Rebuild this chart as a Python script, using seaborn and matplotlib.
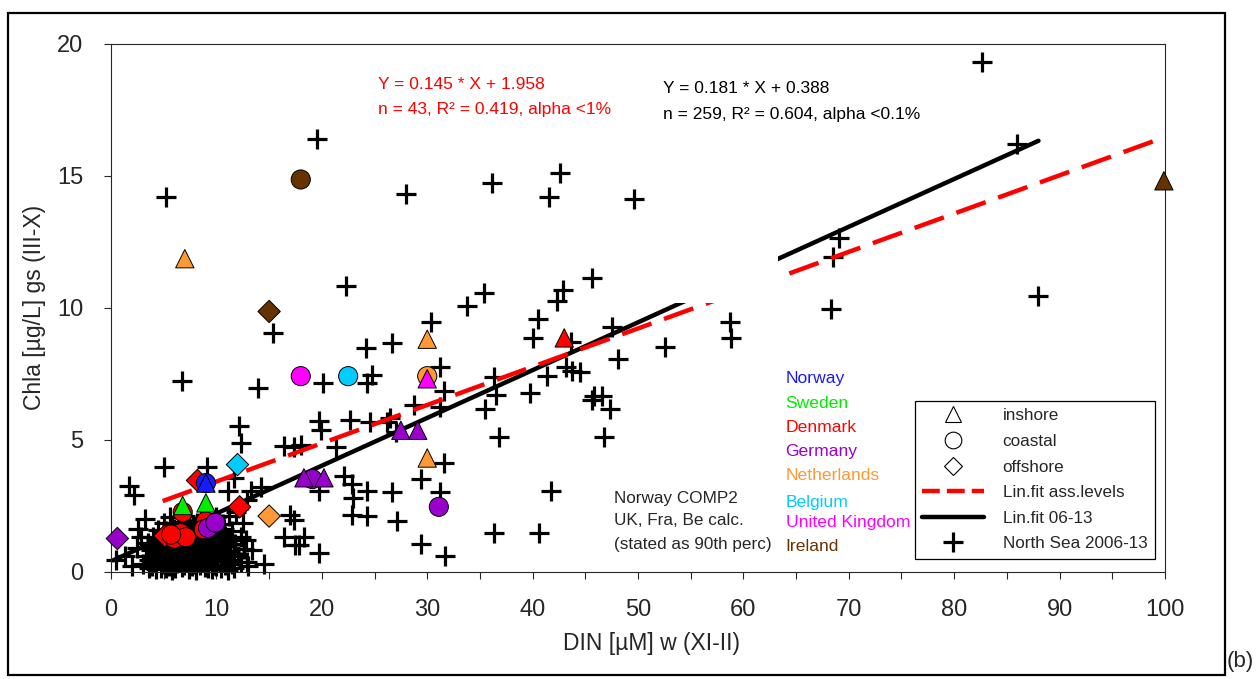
import numpy as np
import pandas as pd
import matplotlib
matplotlib.use("Agg")
import matplotlib.pyplot as plt
from matplotlib.lines import Line2D
from matplotlib.patches import Rectangle
import seaborn as sns

# regression equations printed on the chart
fit_ass_slope, fit_ass_icpt = 0.145, 1.958   # assessment levels
fit_ns_slope, fit_ns_icpt = 0.181, 0.388     # North Sea 2006-13
fit_ass_range = [4.9, 100]
fit_ns_range = [0.2, 88]

# North Sea 2006-13 stations: (DIN winter, Chla growing season)
ns_upper = [(82.6, 19.3), (86.0, 16.2), (19.5, 16.4), (5.2, 14.2), (28.0, 14.3), (36.1, 14.7),
            (42.6, 15.1), (41.6, 14.2), (49.6, 14.1), (22.3, 10.8), (45.6, 11.1), (35.4, 10.55),
            (33.8, 10.05), (42.9, 10.65), (42.3, 10.25), (40.5, 9.55), (40.0, 8.85), (43.6, 8.7),
            (30.4, 9.45), (26.7, 8.65), (24.2, 8.45), (15.4, 9.05), (47.5, 9.25), (48.1, 8.05),
            (52.6, 8.5), (58.7, 9.45), (58.8, 8.85), (68.5, 11.9), (69.1, 12.65), (68.3, 9.95),
            (88.0, 10.45)]
ns_mid = [(6.7, 7.2), (13.9, 6.95), (20.1, 7.15), (24.8, 7.45), (24.3, 7.15), (31.2, 7.75),
          (31.6, 6.85), (28.7, 6.3), (31.25, 6.25), (36.3, 7.35), (36.5, 6.7), (35.5, 6.15),
          (41.4, 7.4), (43.2, 7.75), (43.7, 7.6), (39.8, 6.75), (45.6, 6.5), (44.5, 7.55),
          (45.8, 6.65), (46.6, 6.65), (47.3, 6.15), (46.8, 5.1), (36.8, 5.1), (12.1, 5.5),
          (19.7, 5.7), (22.7, 5.75), (24.6, 5.65), (26.2, 5.65), (26.5, 5.8), (27.0, 5.3),
          (19.9, 5.35), (21.3, 4.7), (18.0, 4.8), (16.4, 4.75), (17.4, 4.7), (12.3, 4.85),
          (31.6, 4.1), (29.4, 3.5), (31.25, 3.0), (22.1, 3.6), (22.9, 3.3), (24.3, 3.05),
          (26.7, 3.0), (23.0, 2.8), (22.9, 2.15), (24.3, 2.1), (27.1, 1.9), (19.7, 3.05),
          (17.0, 2.15), (17.4, 1.95), (16.4, 1.3), (18.3, 1.3), (17.8, 1.0), (19.7, 0.7),
          (29.4, 1.05), (31.7, 0.6), (36.3, 1.45), (40.6, 1.45), (41.7, 3.05)]
ns_left = [(5.05, 3.95), (1.75, 3.25), (2.2, 2.9), (9.15, 3.95), (11.05, 3.05), (11.7, 3.55),
           (13.3, 3.05), (14.2, 3.2), (12.9, 2.7), (0.5, 0.45), (2.8, 1.3), (2.5, 0.9),
           (11.7, 0.65), (12.9, 0.35), (14.5, 0.3), (17.5, 1.0)]
ns_cluster = [(3.6, 0.12), (4.3, 0.08), (5.2, 0.15), (5.8, 0.05), (6.7, 0.18), (7.4, 0.1), (8.1, 0.06),
              (8.9, 0.16), (9.6, 0.09), (10.4, 0.13), (11.1, 0.04),
              (4.0, 0.35), (4.9, 0.28), (5.5, 0.4), (6.3, 0.31), (7.0, 0.37), (7.8, 0.27), (8.5, 0.42),
              (9.2, 0.33), (9.9, 0.25), (10.7, 0.38), (11.5, 0.3), (12.3, 0.36),
              (3.3, 0.6), (4.1, 0.52), (4.8, 0.63), (5.7, 0.55), (6.4, 0.66), (7.2, 0.5), (7.9, 0.61),
              (8.7, 0.57), (9.4, 0.68), (10.1, 0.53), (10.9, 0.64), (12.0, 0.58),
              (3.8, 0.82), (4.6, 0.9), (5.3, 0.78), (6.1, 0.86), (6.8, 0.93), (7.6, 0.8), (8.3, 0.88),
              (9.0, 0.76), (9.8, 0.91), (10.5, 0.84), (11.3, 0.79), (12.6, 0.87),
              (3.5, 1.08), (4.4, 1.02), (5.0, 1.12), (5.9, 1.05), (6.5, 0.98), (7.3, 1.1), (8.0, 1.04),
              (8.8, 1.14), (9.5, 1.0), (10.2, 1.09), (11.0, 1.15), (11.8, 1.03),
              (4.0, 1.32), (4.7, 1.26), (5.6, 1.38), (6.2, 1.3), (7.0, 1.24), (7.7, 1.35), (8.5, 1.28),
              (9.3, 1.4), (10.0, 1.27), (10.8, 1.36), (12.3, 1.3),
              (4.5, 1.58), (5.2, 1.52), (6.0, 1.62), (6.9, 1.55), (7.6, 1.6), (8.3, 1.5), (9.1, 1.64),
              (9.9, 1.57), (10.7, 1.6), (11.5, 1.54),
              (5.0, 1.82), (5.8, 1.78), (6.6, 1.86), (7.4, 1.8), (8.2, 1.84), (9.0, 1.76), (9.8, 1.88),
              (10.6, 1.8), (5.6, 2.05), (7.0, 2.1), (8.5, 2.02), (10.0, 2.08), (11.2, 2.12),
              (2.0, 0.22), (1.3, 0.6), (3.0, 0.28), (2.6, 1.62), (12.8, 1.18), (13.4, 0.8),
              (12.5, 1.84), (11.9, 2.25), (3.2, 2.0), (13.0, 0.22)]
ns_cluster_dense = [(3.9, 0.2), (4.7, 0.14), (5.5, 0.22), (6.1, 0.12), (6.9, 0.26), (7.7, 0.19),
                    (8.4, 0.23), (9.2, 0.12), (10.0, 0.2), (10.8, 0.24), (11.7, 0.15),
                    (3.6, 0.45), (4.4, 0.46), (5.2, 0.5), (6.0, 0.44), (6.8, 0.5), (7.5, 0.44),
                    (8.2, 0.5), (8.9, 0.46), (9.7, 0.42), (10.4, 0.48), (11.2, 0.45),
                    (4.2, 0.72), (5.0, 0.7), (5.9, 0.72), (6.6, 0.76), (7.3, 0.7), (8.0, 0.74),
                    (8.7, 0.7), (9.4, 0.8), (10.2, 0.72), (11.0, 0.71),
                    (3.9, 0.95), (4.8, 1.0), (5.6, 0.94), (6.3, 1.08), (7.0, 0.96), (7.8, 0.97),
                    (8.5, 0.95), (9.2, 1.02), (9.9, 1.18), (10.8, 0.98),
                    (4.3, 1.2), (5.2, 1.25), (6.6, 1.2), (7.4, 1.46), (8.1, 1.42), (8.9, 1.3),
                    (9.6, 1.45), (10.4, 1.47), (11.3, 1.28), (6.4, 1.7), (7.9, 1.7), (9.4, 1.75)]

# national assessment levels
site_country = ['Ireland', 'Ireland', 'Ireland', 'Netherlands', 'Netherlands', 'Netherlands',
                'Netherlands', 'Netherlands', 'United Kingdom', 'United Kingdom', 'Belgium', 'Belgium',
                'Denmark', 'Denmark', 'Denmark', 'Denmark', 'Denmark', 'Denmark', 'Denmark', 'Denmark',
                'Denmark', 'Denmark', 'Denmark',
                'Germany', 'Germany', 'Germany', 'Germany', 'Germany', 'Germany', 'Germany',
                'Germany', 'Germany', 'Norway', 'Norway', 'Sweden', 'Sweden']
site_type = ['coastal', 'offshore', 'inshore', 'inshore', 'inshore', 'coastal',
             'inshore', 'offshore', 'coastal', 'inshore', 'coastal', 'offshore',
             'offshore', 'offshore', 'offshore', 'coastal', 'coastal', 'coastal', 'coastal', 'coastal',
             'coastal', 'coastal', 'inshore',
             'inshore', 'inshore', 'inshore', 'inshore', 'coastal', 'coastal', 'coastal',
             'coastal', 'offshore', 'coastal', 'inshore', 'inshore', 'inshore']
site_x = [18.0, 15.0, 99.9, 7.0, 30.0, 30.0,
          30.0, 15.0, 18.0, 30.0, 22.5, 12.0,
          8.2, 12.2, 5.1, 6.8, 9.0, 6.0, 6.6, 7.1,
          5.7, 8.8, 43.0,
          27.5, 29.1, 18.3, 20.2, 19.1, 31.1, 9.2,
          9.9, 0.6, 9.0, 9.0, 6.8, 9.0]
site_y = [14.85, 9.85, 14.8, 11.85, 8.8, 7.4,
          4.3, 2.1, 7.4, 7.3, 7.4, 4.05,
          3.45, 2.45, 1.35, 2.25, 1.9, 1.25, 1.45, 1.3,
          1.4, 1.6, 8.85,
          5.35, 5.35, 3.55, 3.55, 3.5, 2.45, 1.65,
          1.85, 1.25, 3.35, 3.35, 2.5, 2.6]

country_order = ['Norway', 'Sweden', 'Denmark', 'Germany', 'Netherlands',
                 'Belgium', 'United Kingdom', 'Ireland']
country_colors = {'Norway': '#1a1aff', 'Sweden': '#00ee00', 'Denmark': '#ff0000',
                  'Germany': '#9900cc', 'Netherlands': '#ff9933', 'Belgium': '#00ccff',
                  'United Kingdom': '#ff00ff', 'Ireland': '#663300'}
country_label_y = [7.33, 6.36, 5.44, 4.55, 3.62, 2.6, 1.85, 0.95]

sns.set_style("ticks")
plt.rcParams['font.family'] = ['Liberation Sans', 'DejaVu Sans']

fig = plt.figure(figsize=(12.59, 6.79), dpi=100)
ax = fig.add_axes([0.0882, 0.1583, 0.8371, 0.7776])

ns = pd.DataFrame(ns_upper + ns_mid + ns_left + ns_cluster + ns_cluster_dense,
                  columns=['din', 'chla'])
sns.scatterplot(data=ns, x='din', y='chla', marker='+', s=200, color='black',
                linewidth=2.3, legend=False, ax=ax, zorder=2, clip_on=False)

xa = np.array(fit_ass_range)
xn = np.array(fit_ns_range)
sns.lineplot(x=xn, y=fit_ns_slope * xn + fit_ns_icpt, color='black', lw=3.2, ax=ax, zorder=2.5)
sns.lineplot(x=xa, y=fit_ass_slope * xa + fit_ass_icpt, color='red', lw=3.2,
             linestyle=(0, (7, 3)), ax=ax, zorder=2.5)
# blank box that interrupts both fit lines in the original
ax.add_patch(Rectangle((52, 10.16), 11.3, 4.0, facecolor='white', edgecolor='none', zorder=2.6))

sites = pd.DataFrame({'country': site_country, 'type': site_type, 'din': site_x, 'chla': site_y})
for typ, mk, sz in [('offshore', 'D', 130), ('coastal', 'o', 190), ('inshore', '^', 175)]:
    sub = sites[sites['type'] == typ]
    sns.scatterplot(data=sub, x='din', y='chla', hue='country', palette=country_colors,
                    marker=mk, s=sz, edgecolor='black', linewidth=0.7, legend=False,
                    ax=ax, zorder=3, clip_on=False)

ax.set_xlim(0, 100)
ax.set_ylim(0, 20)
ax.set_xticks(np.arange(0, 101, 10))
ax.set_xticks(np.arange(5, 100, 10), minor=True)
ax.set_yticks(np.arange(0, 21, 5))
ax.tick_params(axis='both', which='both', direction='out', length=5, width=0.8,
               pad=15, labelsize=17)
for sp in ax.spines.values():
    sp.set_linewidth(0.8)
    sp.set_visible(True)

ax.set_xlabel('DIN [µM] w (XI-II)', fontsize=16.5)
ax.set_ylabel('Chla [µg/L] gs (III-X)', fontsize=16.5)
ax.xaxis.set_label_coords(0.513, -0.115)
ax.yaxis.set_label_coords(-0.062, 0.5)

ax.text(25.3, 18.43, 'Y = 0.145 * X + 1.958', color='red', fontsize=12.5, va='center')
ax.text(25.3, 17.5, 'n = 43, R² = 0.419, alpha <1%', color='red', fontsize=12.5, va='center')
ax.text(52.4, 18.3, 'Y = 0.181 * X + 0.388', color='black', fontsize=12.5, va='center')
ax.text(52.4, 17.32, 'n = 259, R² = 0.604, alpha <0.1%', color='black', fontsize=12.5, va='center')

for name, ly in zip(country_order, country_label_y):
    ax.text(64.0, ly, name, color=country_colors[name], fontsize=12.6, va='center')

ax.text(47.7, 2.75, 'Norway COMP2', fontsize=12.3, va='center')
ax.text(47.7, 1.95, 'UK, Fra, Be calc.', fontsize=12.3, va='center')
ax.text(47.7, 1.02, '(stated as 90th perc)', fontsize=12.3, va='center')

handles = [
    Line2D([], [], ls='none', marker='^', mfc='none', mec='black', mew=0.8, ms=12, label='inshore'),
    Line2D([], [], ls='none', marker='o', mfc='none', mec='black', mew=0.8, ms=12, label='coastal'),
    Line2D([], [], ls='none', marker='D', mfc='none', mec='black', mew=0.8, ms=9, label='offshore'),
    Line2D([], [], color='red', lw=3.2, ls=(0, (4, 1.6)), label='Lin.fit ass.levels'),
    Line2D([], [], color='black', lw=3.2, label='Lin.fit 06-13'),
    Line2D([], [], ls='none', marker='+', color='black', mew=2.3, ms=14, label='North Sea 2006-13'),
]
leg = ax.legend(handles=handles, loc='lower right', bbox_to_anchor=(0.9905, 0.0237),
                borderaxespad=0, frameon=True, fancybox=False, framealpha=1,
                edgecolor='black', fontsize=12.3, handlelength=3.6, handletextpad=1.1,
                labelspacing=0.62, borderpad=0.45)
leg.get_frame().set_linewidth(0.9)

fig.add_artist(Rectangle((8 / 1259, 4 / 679), 1217 / 1259, 662 / 679, transform=fig.transFigure,
                         fill=False, edgecolor='black', lw=1.6))
fig.text(1227 / 1259, 18 / 679, '(b)', ha='left', va='center', fontsize=16)

fig.savefig('out.png', dpi=100)
